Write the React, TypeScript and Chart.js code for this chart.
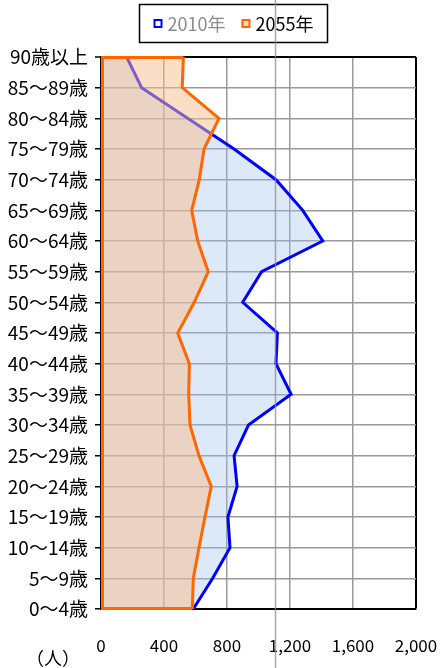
import React, { useEffect, useRef } from "react";
import { Chart, registerables } from "chart.js";

Chart.register(...registerables);

const ageGroups = [
  "0～4歳", "5～9歳", "10～14歳", "15～19歳", "20～24歳", "25～29歳",
  "30～34歳", "35～39歳", "40～44歳", "45～49歳", "50～54歳", "55～59歳",
  "60～64歳", "65～69歳", "70～74歳", "75～79歳", "80～84歳", "85～89歳", "90歳以上",
];
const pop2010 = [586, 709, 819, 806, 864, 845, 936, 1207, 1111, 1120, 900, 1020, 1408, 1281, 1111, 845, 550, 258, 163];
const pop2055 = [580, 586, 622, 660, 700, 622, 565, 557, 561, 487, 592, 681, 614, 576, 624, 654, 749, 516, 523];
const seriesLabels = ["2010年", "2055年"];
const xMin = 0;
const xMax = 2000;
const xStep = 400;
const unitLabel = "（人）";
const markerValue = 1107;

const FONT = '"Noto Sans CJK JP", "Noto Sans", sans-serif';
const BLUE = "#0000ff";
const ORANGE = "#ff6600";
const BLUE_FILL = "rgba(158,192,234,0.35)";
const ORANGE_FILL = "rgba(247,189,141,0.5)";
const legendFills = ["#ffffff", "#fcdec6"];
const legendTextColors = ["#8c8c8c", "#000000"];

const decorPlugin = {
  id: "decor",
  afterDatasetsDraw(chart: any) {
    const meta = chart.getDatasetMeta(1);
    const pts = meta.data;
    if (!pts || !pts.length) return;
    const ctx = chart.ctx;
    const x0 = chart.scales.x.getPixelForValue(0) + 1.5;
    const first = pts[0];
    const last = pts[pts.length - 1];
    ctx.save();
    ctx.strokeStyle = ORANGE;
    ctx.lineWidth = 3;
    ctx.lineJoin = "miter";
    ctx.beginPath();
    ctx.moveTo(first.x, first.y - 0.5);
    ctx.lineTo(x0, first.y - 0.5);
    ctx.lineTo(x0, last.y + 0.5);
    ctx.lineTo(last.x, last.y + 0.5);
    ctx.stroke();
    ctx.restore();
  },
  afterDraw(chart: any) {
    const ctx = chart.ctx;
    ctx.save();
    ctx.font = `18px ${FONT}`;
    const items = chart.data.datasets.map((ds: any, i: number) => ({
      label: ds.label,
      color: ds.borderColor,
      fill: legendFills[i],
      text: legendTextColors[i],
    }));
    const box = 9, gap = 5, itemGap = 16, padX = 14;
    const widths = items.map((it: any) => box + gap + ctx.measureText(it.label).width);
    const total = widths.reduce((a: number, b: number) => a + b, 0) + itemGap * (items.length - 1);
    const cx = 233, top = 4.5, h = 38;
    const left = Math.round(cx - total / 2 - padX) + 0.5;
    ctx.lineWidth = 1.5;
    ctx.strokeStyle = "#000";
    ctx.strokeRect(left, top, Math.round(total + 2 * padX), h);
    let x = left + padX;
    const cy = top + h / 2;
    items.forEach((it: any, i: number) => {
      ctx.fillStyle = it.fill;
      ctx.fillRect(x, cy - box / 2, box, box);
      ctx.lineWidth = 2;
      ctx.strokeStyle = it.color;
      ctx.strokeRect(x + 1, cy - box / 2 + 1, box - 2, box - 2);
      ctx.fillStyle = it.text;
      ctx.textBaseline = "middle";
      ctx.textAlign = "left";
      ctx.fillText(it.label, x + box + gap, cy + 1);
      x += widths[i] + itemGap;
    });
    ctx.font = `18px ${FONT}`;
    ctx.fillStyle = "#000";
    ctx.textAlign = "center";
    ctx.textBaseline = "middle";
    ctx.fillText(unitLabel, 53, 658);
    const mx = Math.round(chart.scales.x.getPixelForValue(markerValue)) + 0.5;
    ctx.strokeStyle = "rgba(140,140,140,0.75)";
    ctx.lineWidth = 1.5;
    ctx.beginPath();
    ctx.moveTo(mx, 0);
    ctx.lineTo(mx, chart.height);
    ctx.stroke();
    ctx.restore();
  },
};

export default function App() {
  const ref = useRef<HTMLCanvasElement>(null);
  useEffect(() => {
    if (!ref.current) return;
    const chart = new Chart(ref.current, {
      type: "line",
      data: {
        labels: ageGroups,
        datasets: [
          {
            label: seriesLabels[0],
            data: pop2010,
            borderColor: BLUE,
            backgroundColor: BLUE_FILL,
            borderWidth: 3,
            fill: "origin",
            pointRadius: 0,
            tension: 0,
            order: 1,
            clip: 6,
          },
          {
            label: seriesLabels[1],
            data: pop2055,
            borderColor: ORANGE,
            backgroundColor: ORANGE_FILL,
            borderWidth: 3,
            fill: "origin",
            pointRadius: 0,
            tension: 0,
            order: 0,
            clip: 6,
          },
        ],
      },
      options: {
        indexAxis: "y",
        responsive: false,
        animation: false,
        devicePixelRatio: 1,
        layout: { padding: { top: 57, right: 24, left: 0, bottom: 0 } },
        plugins: {
          legend: { display: false },
          tooltip: { enabled: false },
        },
        scales: {
          x: {
            type: "linear",
            min: xMin,
            max: xMax,
            ticks: {
              stepSize: xStep,
              color: "#000",
              padding: 26,
              font: { family: FONT, size: 17 },
              maxRotation: 0,
            },
            grid: {
              color: (c: any) => (c.index === 0 || c.index === 5 ? "#000" : "#9a9a9a"),
              lineWidth: (c: any) => (c.index === 5 ? 2 : 1.5),
              drawTicks: false,
            },
            border: { color: "#000", width: 2 },
            afterFit: (s: any) => {
              s.height = 59;
              s.paddingLeft = 0;
              s.paddingRight = 0;
            },
          },
          y: {
            type: "category",
            reverse: true,
            offset: false,
            ticks: {
              color: "#000",
              padding: 7,
              autoSkip: false,
              font: { family: FONT, size: 19 },
            },
            grid: {
              color: (c: any) => (c.index === 18 || c.index === 0 ? "#000" : "#9a9a9a"),
              lineWidth: (c: any) => (c.index === 18 ? 2 : 1.5),
              tickLength: 6,
              tickColor: "#000",
              tickWidth: 1.5,
            },
            border: { color: "#000", width: 2 },
            afterFit: (s: any) => {
              s.width = 101;
              s.paddingTop = 0;
              s.paddingBottom = 0;
            },
          },
        },
      },
      plugins: [decorPlugin],
    } as any);
    return () => chart.destroy();
  }, []);
  return (
    <div style={{ position: "absolute", left: 0, top: 0, width: 440, height: 668, background: "#fff" }}>
      <canvas ref={ref} width={440} height={668} style={{ display: "block" }} />
    </div>
  );
}
